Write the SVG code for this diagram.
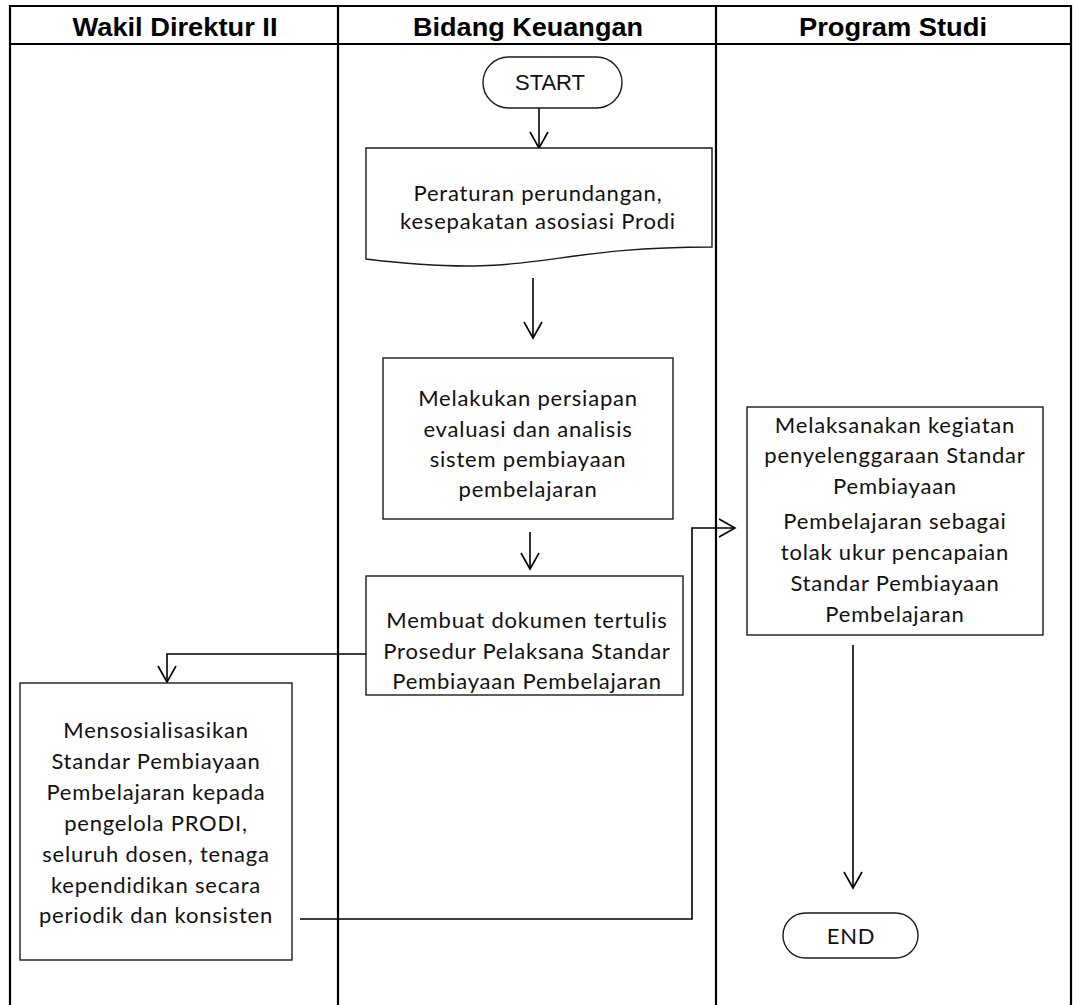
<svg xmlns="http://www.w3.org/2000/svg" width="1077" height="1005" viewBox="0 0 1077 1005">
<style>
.lane{stroke:#000;stroke-width:2.2;fill:none}
.hdr{font-family:"Liberation Sans",Arial,sans-serif;font-weight:bold;font-size:25px;text-anchor:middle;fill:#000}
.box{fill:#fff;stroke:#1a1a1a;stroke-width:1.4}
.t{font-family:Lato,"Open Sans",sans-serif;font-size:22px;letter-spacing:0.8px;text-anchor:middle;fill:#111}
.conn{fill:none;stroke:#000;stroke-width:1.6}
</style>
<defs>
<marker id="arr" markerUnits="userSpaceOnUse" markerWidth="24" markerHeight="24" viewBox="-20 -12 24 24" refX="0" refY="0" orient="auto">
<path d="M-16,-9 L0,0 L-16,9" fill="none" stroke="#000" stroke-width="1.6"/>
</marker>
</defs>
<rect width="1077" height="1005" fill="#fff"/>
<g id="swimlanes">
<line class="lane" x1="9" y1="6" x2="1072" y2="6"/>
<line class="lane" x1="9" y1="44" x2="1072" y2="44" stroke-width="2.6"/>
<line class="lane" x1="10" y1="5" x2="10" y2="1005"/>
<line class="lane" x1="338" y1="5" x2="338" y2="1005"/>
<line class="lane" x1="716" y1="5" x2="716" y2="1005"/>
<line class="lane" x1="1071" y1="5" x2="1071" y2="1005"/>
<text class="hdr" x="175" y="36" textLength="205" lengthAdjust="spacingAndGlyphs">Wakil Direktur II</text>
<text class="hdr" x="528" y="36" textLength="230" lengthAdjust="spacingAndGlyphs">Bidang Keuangan</text>
<text class="hdr" x="893" y="36" textLength="188" lengthAdjust="spacingAndGlyphs">Program Studi</text>
</g>
<g id="connectors">
<path class="conn" d="M539,108 V148" marker-end="url(#arr)"/>
<path class="conn" d="M533,278 V338" marker-end="url(#arr)"/>
<path class="conn" d="M530,532 V569" marker-end="url(#arr)"/>
<path class="conn" d="M366,654 H167 V682" marker-end="url(#arr)"/>
<path class="conn" d="M300,919 H692 V528 H735" marker-end="url(#arr)"/>
<path class="conn" d="M853,645 V888" marker-end="url(#arr)"/>
</g>
<g id="start">
<rect class="box" x="483" y="57" width="139" height="51" rx="25.5"/>
<text x="550" y="90" font-family="Liberation Sans, Arial, sans-serif" font-size="22" text-anchor="middle" fill="#111">START</text>
</g>
<g id="peraturan">
<path class="box" d="M366,148 H712 V247 C539,247 539,280 366,259 Z"/>
<text class="t" x="538" y="201" font-size="23">Peraturan perundangan,</text>
<text class="t" x="538" y="229" font-size="23">kesepakatan asosiasi Prodi</text>
</g>
<g id="persiapan">
<rect class="box" x="383" y="358" width="290" height="161"/>
<text class="t" x="528" y="406">Melakukan persiapan</text>
<text class="t" x="528" y="437">evaluasi dan analisis</text>
<text class="t" x="528" y="467">sistem pembiayaan</text>
<text class="t" x="528" y="497">pembelajaran</text>
</g>
<g id="dokumen">
<rect class="box" x="366" y="576" width="317" height="119"/>
<text class="t" x="527" y="628">Membuat dokumen tertulis</text>
<text class="t" x="527" y="659">Prosedur Pelaksana Standar</text>
<text class="t" x="527" y="689">Pembiayaan Pembelajaran</text>
</g>
<g id="sosialisasi">
<rect class="box" x="20" y="683" width="272" height="277"/>
<text class="t" x="156" y="738">Mensosialisasikan</text>
<text class="t" x="156" y="769">Standar Pembiayaan</text>
<text class="t" x="156" y="800">Pembelajaran kepada</text>
<text class="t" x="156" y="831">pengelola PRODI,</text>
<text class="t" x="156" y="862">seluruh dosen, tenaga</text>
<text class="t" x="156" y="893">kependidikan secara</text>
<text class="t" x="156" y="923">periodik dan konsisten</text>
</g>
<g id="pelaksanaan">
<rect class="box" x="747" y="407" width="296" height="228"/>
<text class="t" x="895" y="433">Melaksanakan kegiatan</text>
<text class="t" x="895" y="463">penyelenggaraan Standar</text>
<text class="t" x="895" y="494">Pembiayaan</text>
<text class="t" x="895" y="529">Pembelajaran sebagai</text>
<text class="t" x="895" y="560">tolak ukur pencapaian</text>
<text class="t" x="895" y="591">Standar Pembiayaan</text>
<text class="t" x="895" y="622">Pembelajaran</text>
</g>
<g id="end">
<rect class="box" x="783" y="913" width="135" height="45" rx="22.5"/>
<text class="t" x="851" y="944" font-size="23">END</text>
</g>
</svg>
